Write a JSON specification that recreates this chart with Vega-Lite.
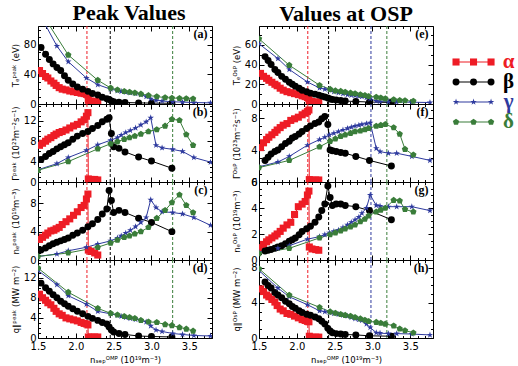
{
"$schema":"https://vega.github.io/schema/vega-lite/v6.json",
"background":"white",
"padding":{"left":10,"top":1,"right":0,"bottom":0},
"datasets":{
"vl":[{"c":"L","s":"α","x":2.147},{"c":"L","s":"β","x":2.455},{"c":"L","s":"δ","x":3.28},{"c":"R","s":"α","x":2.145},{"c":"R","s":"β","x":2.42},{"c":"R","s":"γ","x":2.98},{"c":"R","s":"δ","x":3.19}],
"lab":[{"p":"a","t":"(a)"},{"p":"b","t":"(b)"},{"p":"c","t":"(c)"},{"p":"d","t":"(d)"},{"p":"e","t":"(e)"},{"p":"f","t":"(f)"},{"p":"g","t":"(g)"},{"p":"h","t":"(h)"}],
"leg":[{"s":"α","i":0,"k":[0,1,2]},{"s":"β","i":1,"k":[0,1,2]},{"s":"γ","i":2,"k":[0,1,2]},{"s":"δ","i":3,"k":[0,1,2]}],
"d":[
{"p":"a","s":"α","x":[1.52,1.56,1.6,1.63,1.67,1.71,1.74,1.78,1.82,1.87,1.92,1.97,2.02,2.07,2.11,2.14,2.16,2.165,2.2,2.25,2.29],"y":[45,41,37,35,31,28,25,22,20,19,17.5,16.5,15.5,14.5,14,13,12,5,4,3.5,3]},
{"p":"b","s":"α","x":[1.52,1.56,1.6,1.63,1.67,1.71,1.74,1.78,1.82,1.87,1.92,1.97,2.02,2.07,2.11,2.14,2.16,2.165,2.2,2.25,2.29],"y":[7.2,7.6,8.0,8.4,8.7,9.1,9.4,9.7,9.9,10.2,10.6,11,11.3,11.8,12.2,12.9,13.6,0.6,0.5,0.5,0.4]},
{"p":"c","s":"α","x":[1.52,1.56,1.6,1.63,1.67,1.71,1.74,1.78,1.82,1.87,1.92,1.97,2.02,2.07,2.11,2.14,2.16,2.165,2.2,2.25,2.29],"y":[2.9,3.2,3.5,3.8,4.1,4.2,4.4,4.6,5.0,5.4,5.8,6.3,6.8,7.4,7.7,8.6,9.3,1.4,1.2,1.0,0.7]},
{"p":"d","s":"α","x":[1.52,1.56,1.6,1.63,1.67,1.71,1.74,1.78,1.82,1.87,1.92,1.97,2.02,2.07,2.11,2.14,2.16,2.165,2.2,2.25,2.29],"y":[8.7,8.0,7.5,7.0,6.6,5.9,5.3,4.8,4.5,4.0,3.8,3.6,3.4,3.1,2.9,2.8,2.6,0.2,0.2,0.2,0.2]},
{"p":"e","s":"α","x":[1.52,1.56,1.6,1.63,1.67,1.71,1.74,1.78,1.82,1.87,1.92,1.97,2.02,2.07,2.11,2.14,2.16,2.165,2.2,2.25,2.29],"y":[31,28,26,24,22,20,18.5,16,14,12.5,11.5,10.5,9.5,8.3,7.5,6.5,5.5,3,2.5,2,2]},
{"p":"f","s":"α","x":[1.52,1.56,1.6,1.63,1.67,1.71,1.74,1.78,1.82,1.87,1.92,1.97,2.02,2.07,2.11,2.14,2.16,2.165,2.2,2.25,2.29],"y":[4.3,4.9,5.3,5.6,5.9,6.2,6.5,6.8,7.1,7.3,7.7,7.9,8.1,8.4,8.6,8.8,9.0,0.3,0.25,0.25,0.25]},
{"p":"g","s":"α","x":[1.52,1.56,1.6,1.63,1.67,1.71,1.74,1.78,1.82,1.87,1.92,1.97,2.02,2.07,2.11,2.14,2.16,2.165,2.2,2.25,2.29],"y":[0.95,1.2,1.4,1.55,1.7,1.85,2.0,2.2,2.45,2.7,2.9,3.5,4.1,4.3,4.5,5.0,5.3,1.0,0.85,0.8,0.75]},
{"p":"h","s":"α","x":[1.52,1.56,1.6,1.63,1.67,1.71,1.74,1.78,1.82,1.87,1.92,1.97,2.02,2.07,2.11,2.14,2.16,2.165,2.2,2.25,2.29],"y":[5.6,5.3,4.9,4.7,4.4,4.1,3.7,3.3,3.1,2.8,2.7,2.5,2.3,2.1,2.0,1.9,1.85,0.2,0.1,0.1,0.1]},
{"p":"a","s":"β","x":[1.54,1.6,1.65,1.7,1.75,1.8,1.85,1.9,1.96,2.02,2.09,2.16,2.22,2.29,2.35,2.41,2.44,2.47,2.5,2.57,2.65,2.83,3.0,3.27],"y":[76,67,60,54,49,45,38,32,27,23,20,17,14,12,9,7,6,4,3,2.5,2,1.5,1.2,1]},
{"p":"b","s":"β","x":[1.54,1.6,1.65,1.7,1.75,1.8,1.85,1.9,1.96,2.02,2.09,2.16,2.22,2.29,2.35,2.41,2.44,2.47,2.5,2.57,2.65,2.83,3.0,3.27],"y":[4.4,5.0,5.6,6.0,6.5,6.9,7.3,7.7,8.4,9.0,9.5,9.9,10.5,11.1,11.8,12.3,12.6,9.5,6.9,6.6,5.9,4.9,4.1,2.7]},
{"p":"c","s":"β","x":[1.54,1.6,1.65,1.7,1.75,1.8,1.85,1.9,1.96,2.02,2.09,2.16,2.22,2.29,2.35,2.41,2.44,2.47,2.5,2.57,2.65,2.83,3.0,3.27],"y":[1.4,1.7,2.0,2.3,2.5,2.7,2.9,3.1,3.5,3.8,4.2,4.7,5.1,5.7,6.5,7.2,9.8,8.4,6.7,7.0,6.7,5.9,5.3,4.0]},
{"p":"d","s":"β","x":[1.54,1.6,1.65,1.7,1.75,1.8,1.85,1.9,1.96,2.02,2.09,2.16,2.22,2.29,2.35,2.41,2.44,2.47,2.5,2.57,2.65,2.83,3.0,3.27],"y":[10.9,10.0,9.3,8.6,8.0,7.3,6.8,6.3,5.8,5.3,4.8,4.3,3.9,3.5,3.1,2.8,2.2,1.6,1.2,0.9,0.7,0.4,0.3,0.2]},
{"p":"e","s":"β","x":[1.58,1.62,1.66,1.71,1.75,1.8,1.85,1.9,1.94,1.98,2.03,2.07,2.13,2.18,2.24,2.29,2.33,2.37,2.41,2.44,2.47,2.52,2.58,2.64,2.78,2.96,3.25],"y":[48,44,40,35,32,28,25,22,20,18,16,14,12.5,11,10,9,8,7,6,5,4.5,4,3.5,3,2.5,2,1.5]},
{"p":"f","s":"β","x":[1.58,1.62,1.66,1.71,1.75,1.8,1.85,1.9,1.94,1.98,2.03,2.07,2.13,2.18,2.24,2.29,2.33,2.37,2.41,2.44,2.47,2.52,2.58,2.64,2.78,2.96,3.25],"y":[2.7,3.1,3.5,3.8,4.0,4.4,4.8,5.1,5.5,5.7,6.0,6.3,6.7,7.0,7.3,7.5,7.9,8.2,7.2,4.0,3.9,3.8,3.7,3.6,3.2,2.7,2.0]},
{"p":"g","s":"β","x":[1.58,1.62,1.66,1.71,1.75,1.8,1.85,1.9,1.94,1.98,2.03,2.07,2.13,2.18,2.24,2.29,2.33,2.37,2.41,2.44,2.47,2.52,2.58,2.64,2.78,2.96,3.25],"y":[0.7,0.75,0.8,0.9,1.0,1.1,1.25,1.45,1.55,1.7,1.95,2.2,2.4,2.6,2.9,3.3,3.8,4.3,5.7,4.8,4.2,4.3,4.3,4.2,4.1,3.8,3.1]},
{"p":"h","s":"β","x":[1.58,1.62,1.66,1.71,1.75,1.8,1.85,1.9,1.94,1.98,2.03,2.07,2.13,2.18,2.24,2.29,2.33,2.37,2.41,2.44,2.47,2.52,2.58,2.64,2.78,2.96,3.25],"y":[6.4,6.0,5.7,5.2,4.9,4.6,4.2,3.9,3.6,3.4,3.1,2.9,2.7,2.6,2.4,2.2,1.9,1.6,1.1,0.8,0.6,0.5,0.45,0.4,0.35,0.25,0.2]},
{"p":"a","s":"γ","x":[1.5,1.75,1.9,2.14,2.29,2.46,2.55,2.6,2.66,2.72,2.79,2.86,2.93,2.99,3.06,3.14,3.28,3.41,3.56,3.78],"y":[125,78,57,35,26,20,18,17,16,15,14,12.6,10,7,5,4,3,2.5,2,1.5]},
{"p":"b","s":"γ","x":[1.5,1.75,1.9,2.14,2.29,2.46,2.55,2.6,2.66,2.72,2.79,2.86,2.93,2.99,3.06,3.14,3.28,3.41,3.56,3.78],"y":[2.4,3.6,4.8,6.2,7.3,8.2,8.7,9.2,9.7,10.1,10.6,11.2,11.8,12.6,7.2,6.7,6.4,6.0,4.8,3.9]},
{"p":"c","s":"γ","x":[1.5,1.75,1.9,2.14,2.29,2.46,2.55,2.6,2.66,2.72,2.79,2.86,2.93,2.99,3.06,3.14,3.28,3.41,3.56,3.78],"y":[0.5,0.85,1.3,1.8,2.25,2.7,3.1,3.4,3.8,4.2,4.7,5.3,6.0,8.5,7.4,6.8,6.7,6.5,6.0,4.9]},
{"p":"d","s":"γ","x":[1.5,1.75,1.9,2.14,2.29,2.46,2.55,2.6,2.66,2.72,2.79,2.86,2.93,2.99,3.06,3.14,3.28,3.41,3.56,3.78],"y":[13.4,10.6,8.4,6.7,5.3,4.8,4.5,4.3,4.1,3.9,3.7,3.5,3.2,2.4,1.6,1.3,0.9,0.7,0.5,0.4]},
{"p":"e","s":"γ","x":[1.5,1.75,1.9,2.14,2.3,2.37,2.43,2.49,2.55,2.61,2.67,2.72,2.77,2.82,2.86,2.92,2.97,3.05,3.1,3.21,3.32,3.52,3.76],"y":[61,46,35,22.3,16.2,15,13.9,12.5,11.5,10.5,9.5,9,8.5,8,7.5,6.5,5.4,3,2.5,2.2,2,1.8,1.5]},
{"p":"f","s":"γ","x":[1.5,1.75,1.9,2.14,2.3,2.37,2.43,2.49,2.55,2.61,2.67,2.72,2.77,2.82,2.86,2.92,2.97,3.05,3.1,3.21,3.32,3.52,3.76],"y":[1.9,2.5,3.2,4.6,5.3,5.6,5.9,6.1,6.3,6.5,6.7,6.85,7.0,7.1,7.2,7.3,7.4,4.2,3.8,3.6,3.6,3.2,2.7]},
{"p":"g","s":"γ","x":[1.5,1.75,1.9,2.14,2.3,2.37,2.43,2.49,2.55,2.61,2.67,2.72,2.77,2.82,2.86,2.92,2.97,3.05,3.1,3.21,3.32,3.52,3.76],"y":[0.6,0.9,1.1,1.6,1.8,1.95,2.1,2.2,2.3,2.5,2.7,2.9,3.1,3.3,3.6,4.0,5.0,4.2,4.15,4.1,4.1,4.1,3.8]},
{"p":"h","s":"γ","x":[1.5,1.75,1.9,2.14,2.3,2.37,2.43,2.49,2.55,2.61,2.67,2.72,2.77,2.82,2.86,2.92,2.97,3.05,3.1,3.21,3.32,3.52,3.76],"y":[7.7,5.7,4.7,3.8,3.1,3.0,2.9,2.8,2.7,2.6,2.5,2.35,2.2,2.1,2.0,1.6,1.2,0.6,0.55,0.5,0.5,0.45,0.35]},
{"p":"a","s":"δ","x":[1.5,1.9,2.29,2.46,2.55,2.64,2.71,2.78,2.86,2.96,3.07,3.18,3.27,3.37,3.46,3.55],"y":[130,66,32,21.6,19,17,16,15,13.5,11.5,10,8.6,8,7.7,7.3,7]},
{"p":"b","s":"δ","x":[1.5,1.9,2.29,2.46,2.55,2.64,2.71,2.78,2.86,2.96,3.07,3.18,3.27,3.37,3.46,3.55],"y":[2.3,4.0,6.5,7.5,7.9,8.4,8.7,9.0,9.4,9.9,10.3,11.0,12.3,12.1,9.3,7.2]},
{"p":"c","s":"δ","x":[1.5,1.9,2.29,2.46,2.55,2.64,2.71,2.78,2.86,2.96,3.07,3.18,3.27,3.37,3.46,3.55],"y":[0.5,1.0,1.8,2.4,2.8,3.2,3.4,3.7,4.0,4.6,5.9,7.0,8.1,9.2,7.7,6.7]},
{"p":"d","s":"δ","x":[1.5,1.9,2.29,2.46,2.55,2.64,2.71,2.78,2.86,2.96,3.07,3.18,3.27,3.37,3.46,3.55],"y":[13.9,9.1,5.9,4.9,4.6,4.3,4.1,3.9,3.5,3.2,3.1,2.7,2.5,2.1,1.8,1.4]},
{"p":"e","s":"δ","x":[1.5,1.9,2.3,2.44,2.51,2.58,2.64,2.71,2.77,2.84,2.9,2.95,3.05,3.11,3.17,3.28,3.36,3.43,3.54],"y":[66,39.3,19,15,13.5,13,12,11.2,10.5,9.5,8.8,7.8,7,6.2,5.4,4.4,3.8,3.4,3]},
{"p":"f","s":"δ","x":[1.5,1.9,2.3,2.44,2.51,2.58,2.64,2.71,2.77,2.84,2.9,2.95,3.05,3.11,3.17,3.28,3.36,3.43,3.54],"y":[1.8,2.7,4.4,5.1,5.4,5.7,5.9,6.1,6.3,6.4,6.55,6.7,7.0,7.1,7.2,6.8,6.0,4.1,3.4]},
{"p":"g","s":"δ","x":[1.5,1.9,2.3,2.44,2.51,2.58,2.64,2.71,2.77,2.84,2.9,2.95,3.05,3.11,3.17,3.28,3.36,3.43,3.54],"y":[0.5,0.9,1.7,1.95,2.1,2.25,2.4,2.55,2.7,2.95,3.15,3.4,3.7,3.85,4.0,4.6,4.55,3.9,3.7]},
{"p":"h","s":"δ","x":[1.5,1.9,2.3,2.44,2.51,2.58,2.64,2.71,2.77,2.84,2.9,2.95,3.05,3.11,3.17,3.28,3.36,3.43,3.54],"y":[7.9,4.9,3.5,3.0,2.85,2.7,2.6,2.5,2.35,2.2,2.05,1.9,1.8,1.7,1.6,1.4,1.05,0.85,0.6]}
]},
"spacing":18,
"hconcat":[
{"spacing":0,"bounds":"flush","vconcat":[
{"width":174,"height":78,
 "title":{"text":"Peak Values","font":"Liberation Serif","fontSize":22,"fontWeight":"bold","color":"black","anchor":"middle","frame":"group","offset":0,"dx":4},
 "layer":[
 {"data":{"name":"vl"},"transform":[{"filter":"datum.c=='L'"}],"mark":{"type":"rule","strokeDash":[3,2],"strokeWidth":1},
  "encoding":{"x":{"field":"x","type":"quantitative","scale":{"domain":[1.5,3.8],"nice":false,"zero":false},"axis":{"orient":"bottom","values":[1.5,1.6,1.7,1.8,1.9,2.0,2.1,2.2,2.3,2.4,2.5,2.6,2.7,2.8,2.9,3.0,3.1,3.2,3.3,3.4,3.5,3.6,3.7,3.8],"labels":false,"title":null,"tickSize":{"condition":{"test":"abs(datum.value*2-round(datum.value*2))<0.001","value":-5},"value":-2.5}}},
  "color":{"field":"s","type":"nominal","scale":{"domain":["α","β","γ","δ"],"range":["#ee1c25","#000000","#2e3a9e","#3a7d3a"]},"legend":null}}},
 {"data":{"name":"d"},"transform":[{"filter":"datum.p=='a'"},{"flatten":["x","y"]}],"mark":{"type":"line","strokeWidth":1,"clip":true},
  "encoding":{"x":{"field":"x","type":"quantitative","axis":{"orient":"top","values":[1.5,1.6,1.7,1.8,1.9,2.0,2.1,2.2,2.3,2.4,2.5,2.6,2.7,2.8,2.9,3.0,3.1,3.2,3.3,3.4,3.5,3.6,3.7,3.8],"labels":false,"title":null,"tickSize":{"condition":{"test":"abs(datum.value*2-round(datum.value*2))<0.001","value":-5},"value":-2.5}}},
  "y":{"field":"y","type":"quantitative","scale":{"domain":[0,105],"nice":false,"zero":false},"axis":{"orient":"left","minExtent":15,"maxExtent":15,"values":[0,10,20,30,40,50,60,70,80,90,100],"labelExpr":"datum.value % 40 == 0 ? format(datum.value,'d') : ''","title":"Tₑᵖᵉᵃᵏ (eV)","tickSize":{"condition":{"test":"datum.value % 40 == 0","value":-5},"value":-2.5}}},
  "color":{"field":"s","type":"nominal","legend":null}}},
 {"data":{"name":"d"},"transform":[{"filter":"datum.p=='a'"},{"flatten":["x","y"]}],"mark":{"type":"point","filled":true,"opacity":1,"clip":true,"strokeWidth":0},
  "encoding":{"x":{"field":"x","type":"quantitative","axis":null},
  "y":{"field":"y","type":"quantitative","axis":{"orient":"right","values":[0,10,20,30,40,50,60,70,80,90,100],"labels":false,"title":null,"tickSize":{"condition":{"test":"datum.value % 40 == 0","value":-5},"value":-2.5}}},
  "color":{"field":"s","type":"nominal","legend":null},
  "shape":{"field":"s","type":"nominal","scale":{"domain":["α","β","γ","δ"],"range":["square","circle","M0,-1L0.2245,-0.309L0.9511,-0.309L0.3633,0.118L0.5878,0.809L0,0.382L-0.5878,0.809L-0.3633,0.118L-0.9511,-0.309L-0.2245,-0.309Z","M0,-1L0.9511,-0.309L0.5878,0.809L-0.5878,0.809L-0.9511,-0.309Z"]},"legend":null},
  "size":{"field":"s","type":"ordinal","scale":{"domain":["α","β","γ","δ"],"range":[50,45,90,55]},"legend":null}}},
 {"data":{"name":"lab"},"transform":[{"filter":"datum.p=='a'"}],"mark":{"type":"text","align":"right","baseline":"top","font":"Liberation Serif","fontSize":12,"fontWeight":"bold","color":"black"},
  "encoding":{"x":{"datum":3.74,"type":"quantitative","axis":null},"y":{"datum":101,"type":"quantitative","axis":null},"text":{"field":"t"}}}
 ]},
{"width":174,"height":78,
 "layer":[
 {"data":{"name":"vl"},"transform":[{"filter":"datum.c=='L'"}],"mark":{"type":"rule","strokeDash":[3,2],"strokeWidth":1},
  "encoding":{"x":{"field":"x","type":"quantitative","scale":{"domain":[1.5,3.8],"nice":false,"zero":false},"axis":{"orient":"bottom","values":[1.5,1.6,1.7,1.8,1.9,2.0,2.1,2.2,2.3,2.4,2.5,2.6,2.7,2.8,2.9,3.0,3.1,3.2,3.3,3.4,3.5,3.6,3.7,3.8],"labels":false,"title":null,"tickSize":{"condition":{"test":"abs(datum.value*2-round(datum.value*2))<0.001","value":-5},"value":-2.5}}},
  "color":{"field":"s","type":"nominal","legend":null}}},
 {"data":{"name":"d"},"transform":[{"filter":"datum.p=='b'"},{"flatten":["x","y"]}],"mark":{"type":"line","strokeWidth":1,"clip":true},
  "encoding":{"x":{"field":"x","type":"quantitative","axis":{"orient":"top","values":[1.5,1.6,1.7,1.8,1.9,2.0,2.1,2.2,2.3,2.4,2.5,2.6,2.7,2.8,2.9,3.0,3.1,3.2,3.3,3.4,3.5,3.6,3.7,3.8],"labels":false,"title":null,"tickSize":{"condition":{"test":"abs(datum.value*2-round(datum.value*2))<0.001","value":-5},"value":-2.5}}},
  "y":{"field":"y","type":"quantitative","scale":{"domain":[0,15.3],"nice":false,"zero":false},"axis":{"orient":"left","minExtent":15,"maxExtent":15,"values":[0,1,2,3,4,5,6,7,8,9,10,11,12,13,14,15],"labelExpr":"datum.value % 4 == 0 ? format(datum.value,'d') : ''","title":"Γᵖᵉᵃᵏ (10²³m⁻²s⁻¹)","tickSize":{"condition":{"test":"datum.value % 4 == 0","value":-5},"value":-2.5}}},
  "color":{"field":"s","type":"nominal","legend":null}}},
 {"data":{"name":"d"},"transform":[{"filter":"datum.p=='b'"},{"flatten":["x","y"]}],"mark":{"type":"point","filled":true,"opacity":1,"clip":true,"strokeWidth":0},
  "encoding":{"x":{"field":"x","type":"quantitative","axis":null},
  "y":{"field":"y","type":"quantitative","axis":{"orient":"right","values":[0,1,2,3,4,5,6,7,8,9,10,11,12,13,14,15],"labels":false,"title":null,"tickSize":{"condition":{"test":"datum.value % 4 == 0","value":-5},"value":-2.5}}},
  "color":{"field":"s","type":"nominal","legend":null},
  "shape":{"field":"s","type":"nominal","legend":null},
  "size":{"field":"s","type":"ordinal","legend":null}}},
 {"data":{"name":"lab"},"transform":[{"filter":"datum.p=='b'"}],"mark":{"type":"text","align":"right","baseline":"top","font":"Liberation Serif","fontSize":12,"fontWeight":"bold","color":"black"},
  "encoding":{"x":{"datum":3.74,"type":"quantitative","axis":null},"y":{"datum":14.7,"type":"quantitative","axis":null},"text":{"field":"t"}}}
 ]},
{"width":174,"height":78,
 "layer":[
 {"data":{"name":"vl"},"transform":[{"filter":"datum.c=='L'"}],"mark":{"type":"rule","strokeDash":[3,2],"strokeWidth":1},
  "encoding":{"x":{"field":"x","type":"quantitative","scale":{"domain":[1.5,3.8],"nice":false,"zero":false},"axis":{"orient":"bottom","values":[1.5,1.6,1.7,1.8,1.9,2.0,2.1,2.2,2.3,2.4,2.5,2.6,2.7,2.8,2.9,3.0,3.1,3.2,3.3,3.4,3.5,3.6,3.7,3.8],"labels":false,"title":null,"tickSize":{"condition":{"test":"abs(datum.value*2-round(datum.value*2))<0.001","value":-5},"value":-2.5}}},
  "color":{"field":"s","type":"nominal","legend":null}}},
 {"data":{"name":"d"},"transform":[{"filter":"datum.p=='c'"},{"flatten":["x","y"]}],"mark":{"type":"line","strokeWidth":1,"clip":true},
  "encoding":{"x":{"field":"x","type":"quantitative","axis":{"orient":"top","values":[1.5,1.6,1.7,1.8,1.9,2.0,2.1,2.2,2.3,2.4,2.5,2.6,2.7,2.8,2.9,3.0,3.1,3.2,3.3,3.4,3.5,3.6,3.7,3.8],"labels":false,"title":null,"tickSize":{"condition":{"test":"abs(datum.value*2-round(datum.value*2))<0.001","value":-5},"value":-2.5}}},
  "y":{"field":"y","type":"quantitative","scale":{"domain":[0,11],"nice":false,"zero":false},"axis":{"orient":"left","minExtent":15,"maxExtent":15,"values":[0,1,2,3,4,5,6,7,8,9,10,11],"labelExpr":"datum.value % 4 == 0 ? format(datum.value,'d') : ''","title":"nₑᵖᵉᵃᵏ (10¹⁹m⁻³)","tickSize":{"condition":{"test":"datum.value % 4 == 0","value":-5},"value":-2.5}}},
  "color":{"field":"s","type":"nominal","legend":null}}},
 {"data":{"name":"d"},"transform":[{"filter":"datum.p=='c'"},{"flatten":["x","y"]}],"mark":{"type":"point","filled":true,"opacity":1,"clip":true,"strokeWidth":0},
  "encoding":{"x":{"field":"x","type":"quantitative","axis":null},
  "y":{"field":"y","type":"quantitative","axis":{"orient":"right","values":[0,1,2,3,4,5,6,7,8,9,10,11],"labels":false,"title":null,"tickSize":{"condition":{"test":"datum.value % 4 == 0","value":-5},"value":-2.5}}},
  "color":{"field":"s","type":"nominal","legend":null},
  "shape":{"field":"s","type":"nominal","legend":null},
  "size":{"field":"s","type":"ordinal","legend":null}}},
 {"data":{"name":"lab"},"transform":[{"filter":"datum.p=='c'"}],"mark":{"type":"text","align":"right","baseline":"top","font":"Liberation Serif","fontSize":12,"fontWeight":"bold","color":"black"},
  "encoding":{"x":{"datum":3.74,"type":"quantitative","axis":null},"y":{"datum":10.6,"type":"quantitative","axis":null},"text":{"field":"t"}}}
 ]},
{"width":174,"height":78,
 "layer":[
 {"data":{"name":"vl"},"transform":[{"filter":"datum.c=='L'"}],"mark":{"type":"rule","strokeDash":[3,2],"strokeWidth":1},
  "encoding":{"x":{"field":"x","type":"quantitative","scale":{"domain":[1.5,3.8],"nice":false,"zero":false},"axis":{"orient":"bottom","values":[1.5,1.6,1.7,1.8,1.9,2.0,2.1,2.2,2.3,2.4,2.5,2.6,2.7,2.8,2.9,3.0,3.1,3.2,3.3,3.4,3.5,3.6,3.7,3.8],"labelExpr":"abs(datum.value*2-round(datum.value*2))<0.001 ? format(datum.value,'.1f') : ''","title":"nₛₑₚᴼᴹᴾ (10¹⁹m⁻³)","tickSize":{"condition":{"test":"abs(datum.value*2-round(datum.value*2))<0.001","value":-5},"value":-2.5}}},
  "color":{"field":"s","type":"nominal","legend":null}}},
 {"data":{"name":"d"},"transform":[{"filter":"datum.p=='d'"},{"flatten":["x","y"]}],"mark":{"type":"line","strokeWidth":1,"clip":true},
  "encoding":{"x":{"field":"x","type":"quantitative","axis":{"orient":"top","values":[1.5,1.6,1.7,1.8,1.9,2.0,2.1,2.2,2.3,2.4,2.5,2.6,2.7,2.8,2.9,3.0,3.1,3.2,3.3,3.4,3.5,3.6,3.7,3.8],"labels":false,"title":null,"tickSize":{"condition":{"test":"abs(datum.value*2-round(datum.value*2))<0.001","value":-5},"value":-2.5}}},
  "y":{"field":"y","type":"quantitative","scale":{"domain":[0,15.5],"nice":false,"zero":false},"axis":{"orient":"left","minExtent":15,"maxExtent":15,"values":[0,1,2,3,4,5,6,7,8,9,10,11,12,13,14,15],"labelExpr":"datum.value % 4 == 0 ? format(datum.value,'d') : ''","title":"q∥ᵖᵉᵃᵏ (MW m⁻²)","tickSize":{"condition":{"test":"datum.value % 4 == 0","value":-5},"value":-2.5}}},
  "color":{"field":"s","type":"nominal","legend":null}}},
 {"data":{"name":"d"},"transform":[{"filter":"datum.p=='d'"},{"flatten":["x","y"]}],"mark":{"type":"point","filled":true,"opacity":1,"clip":true,"strokeWidth":0},
  "encoding":{"x":{"field":"x","type":"quantitative","axis":null},
  "y":{"field":"y","type":"quantitative","axis":{"orient":"right","values":[0,1,2,3,4,5,6,7,8,9,10,11,12,13,14,15],"labels":false,"title":null,"tickSize":{"condition":{"test":"datum.value % 4 == 0","value":-5},"value":-2.5}}},
  "color":{"field":"s","type":"nominal","legend":null},
  "shape":{"field":"s","type":"nominal","legend":null},
  "size":{"field":"s","type":"ordinal","legend":null}}},
 {"data":{"name":"lab"},"transform":[{"filter":"datum.p=='d'"}],"mark":{"type":"text","align":"right","baseline":"top","font":"Liberation Serif","fontSize":12,"fontWeight":"bold","color":"black"},
  "encoding":{"x":{"datum":3.74,"type":"quantitative","axis":null},"y":{"datum":14.9,"type":"quantitative","axis":null},"text":{"field":"t"}}}
 ]}
]},
{"spacing":0,"bounds":"flush","vconcat":[
{"width":174,"height":78,
 "title":{"text":"Values at OSP","font":"Liberation Serif","fontSize":22,"fontWeight":"bold","color":"black","anchor":"middle","frame":"group","offset":0},
 "layer":[
 {"data":{"name":"vl"},"transform":[{"filter":"datum.c=='R'"}],"mark":{"type":"rule","strokeDash":[3,2],"strokeWidth":1},
  "encoding":{"x":{"field":"x","type":"quantitative","scale":{"domain":[1.5,3.8],"nice":false,"zero":false},"axis":{"orient":"bottom","values":[1.5,1.6,1.7,1.8,1.9,2.0,2.1,2.2,2.3,2.4,2.5,2.6,2.7,2.8,2.9,3.0,3.1,3.2,3.3,3.4,3.5,3.6,3.7,3.8],"labels":false,"title":null,"tickSize":{"condition":{"test":"abs(datum.value*2-round(datum.value*2))<0.001","value":-5},"value":-2.5}}},
  "color":{"field":"s","type":"nominal","legend":null}}},
 {"data":{"name":"d"},"transform":[{"filter":"datum.p=='e'"},{"flatten":["x","y"]}],"mark":{"type":"line","strokeWidth":1,"clip":true},
  "encoding":{"x":{"field":"x","type":"quantitative","axis":{"orient":"top","values":[1.5,1.6,1.7,1.8,1.9,2.0,2.1,2.2,2.3,2.4,2.5,2.6,2.7,2.8,2.9,3.0,3.1,3.2,3.3,3.4,3.5,3.6,3.7,3.8],"labels":false,"title":null,"tickSize":{"condition":{"test":"abs(datum.value*2-round(datum.value*2))<0.001","value":-5},"value":-2.5}}},
  "y":{"field":"y","type":"quantitative","scale":{"domain":[0,79],"nice":false,"zero":false},"axis":{"orient":"left","minExtent":15,"maxExtent":15,"values":[0,10,20,30,40,50,60,70],"labelExpr":"datum.value % 20 == 0 ? format(datum.value,'d') : ''","title":"Tₑᴼˢᴾ (eV)","tickSize":{"condition":{"test":"datum.value % 20 == 0","value":-5},"value":-2.5}}},
  "color":{"field":"s","type":"nominal","legend":null}}},
 {"data":{"name":"d"},"transform":[{"filter":"datum.p=='e'"},{"flatten":["x","y"]}],"mark":{"type":"point","filled":true,"opacity":1,"clip":true,"strokeWidth":0},
  "encoding":{"x":{"field":"x","type":"quantitative","axis":null},
  "y":{"field":"y","type":"quantitative","axis":{"orient":"right","values":[0,10,20,30,40,50,60,70],"labels":false,"title":null,"tickSize":{"condition":{"test":"datum.value % 20 == 0","value":-5},"value":-2.5}}},
  "color":{"field":"s","type":"nominal","legend":null},
  "shape":{"field":"s","type":"nominal","legend":null},
  "size":{"field":"s","type":"ordinal","legend":null}}},
 {"data":{"name":"lab"},"transform":[{"filter":"datum.p=='e'"}],"mark":{"type":"text","align":"right","baseline":"top","font":"Liberation Serif","fontSize":12,"fontWeight":"bold","color":"black"},
  "encoding":{"x":{"datum":3.74,"type":"quantitative","axis":null},"y":{"datum":76,"type":"quantitative","axis":null},"text":{"field":"t"}}}
 ]},
{"width":174,"height":78,
 "layer":[
 {"data":{"name":"vl"},"transform":[{"filter":"datum.c=='R'"}],"mark":{"type":"rule","strokeDash":[3,2],"strokeWidth":1},
  "encoding":{"x":{"field":"x","type":"quantitative","scale":{"domain":[1.5,3.8],"nice":false,"zero":false},"axis":{"orient":"bottom","values":[1.5,1.6,1.7,1.8,1.9,2.0,2.1,2.2,2.3,2.4,2.5,2.6,2.7,2.8,2.9,3.0,3.1,3.2,3.3,3.4,3.5,3.6,3.7,3.8],"labels":false,"title":null,"tickSize":{"condition":{"test":"abs(datum.value*2-round(datum.value*2))<0.001","value":-5},"value":-2.5}}},
  "color":{"field":"s","type":"nominal","legend":null}}},
 {"data":{"name":"d"},"transform":[{"filter":"datum.p=='f'"},{"flatten":["x","y"]}],"mark":{"type":"line","strokeWidth":1,"clip":true},
  "encoding":{"x":{"field":"x","type":"quantitative","axis":{"orient":"top","values":[1.5,1.6,1.7,1.8,1.9,2.0,2.1,2.2,2.3,2.4,2.5,2.6,2.7,2.8,2.9,3.0,3.1,3.2,3.3,3.4,3.5,3.6,3.7,3.8],"labels":false,"title":null,"tickSize":{"condition":{"test":"abs(datum.value*2-round(datum.value*2))<0.001","value":-5},"value":-2.5}}},
  "y":{"field":"y","type":"quantitative","scale":{"domain":[0,9.75],"nice":false,"zero":false},"axis":{"orient":"left","minExtent":15,"maxExtent":15,"values":[0,1,2,3,4,5,6,7,8,9],"labelExpr":"datum.value % 4 == 0 ? format(datum.value,'d') : ''","title":"Γᴼˢᴾ (10²³m⁻²s⁻¹)","tickSize":{"condition":{"test":"datum.value % 4 == 0","value":-5},"value":-2.5}}},
  "color":{"field":"s","type":"nominal","legend":null}}},
 {"data":{"name":"d"},"transform":[{"filter":"datum.p=='f'"},{"flatten":["x","y"]}],"mark":{"type":"point","filled":true,"opacity":1,"clip":true,"strokeWidth":0},
  "encoding":{"x":{"field":"x","type":"quantitative","axis":null},
  "y":{"field":"y","type":"quantitative","axis":{"orient":"right","values":[0,1,2,3,4,5,6,7,8,9],"labels":false,"title":null,"tickSize":{"condition":{"test":"datum.value % 4 == 0","value":-5},"value":-2.5}}},
  "color":{"field":"s","type":"nominal","legend":null},
  "shape":{"field":"s","type":"nominal","legend":null},
  "size":{"field":"s","type":"ordinal","legend":null}}},
 {"data":{"name":"lab"},"transform":[{"filter":"datum.p=='f'"}],"mark":{"type":"text","align":"right","baseline":"top","font":"Liberation Serif","fontSize":12,"fontWeight":"bold","color":"black"},
  "encoding":{"x":{"datum":3.74,"type":"quantitative","axis":null},"y":{"datum":9.4,"type":"quantitative","axis":null},"text":{"field":"t"}}}
 ]},
{"width":174,"height":78,
 "layer":[
 {"data":{"name":"vl"},"transform":[{"filter":"datum.c=='R'"}],"mark":{"type":"rule","strokeDash":[3,2],"strokeWidth":1},
  "encoding":{"x":{"field":"x","type":"quantitative","scale":{"domain":[1.5,3.8],"nice":false,"zero":false},"axis":{"orient":"bottom","values":[1.5,1.6,1.7,1.8,1.9,2.0,2.1,2.2,2.3,2.4,2.5,2.6,2.7,2.8,2.9,3.0,3.1,3.2,3.3,3.4,3.5,3.6,3.7,3.8],"labels":false,"title":null,"tickSize":{"condition":{"test":"abs(datum.value*2-round(datum.value*2))<0.001","value":-5},"value":-2.5}}},
  "color":{"field":"s","type":"nominal","legend":null}}},
 {"data":{"name":"d"},"transform":[{"filter":"datum.p=='g'"},{"flatten":["x","y"]}],"mark":{"type":"line","strokeWidth":1,"clip":true},
  "encoding":{"x":{"field":"x","type":"quantitative","axis":{"orient":"top","values":[1.5,1.6,1.7,1.8,1.9,2.0,2.1,2.2,2.3,2.4,2.5,2.6,2.7,2.8,2.9,3.0,3.1,3.2,3.3,3.4,3.5,3.6,3.7,3.8],"labels":false,"title":null,"tickSize":{"condition":{"test":"abs(datum.value*2-round(datum.value*2))<0.001","value":-5},"value":-2.5}}},
  "y":{"field":"y","type":"quantitative","scale":{"domain":[0,6],"nice":false,"zero":false},"axis":{"orient":"left","minExtent":15,"maxExtent":15,"values":[0,0.5,1,1.5,2,2.5,3,3.5,4,4.5,5,5.5,6],"labelExpr":"datum.value % 2 == 0 ? format(datum.value,'d') : ''","title":"nₑᴼˢᴾ (10¹⁹m⁻³)","tickSize":{"condition":{"test":"datum.value % 2 == 0","value":-5},"value":-2.5}}},
  "color":{"field":"s","type":"nominal","legend":null}}},
 {"data":{"name":"d"},"transform":[{"filter":"datum.p=='g'"},{"flatten":["x","y"]}],"mark":{"type":"point","filled":true,"opacity":1,"clip":true,"strokeWidth":0},
  "encoding":{"x":{"field":"x","type":"quantitative","axis":null},
  "y":{"field":"y","type":"quantitative","axis":{"orient":"right","values":[0,0.5,1,1.5,2,2.5,3,3.5,4,4.5,5,5.5,6],"labels":false,"title":null,"tickSize":{"condition":{"test":"datum.value % 2 == 0","value":-5},"value":-2.5}}},
  "color":{"field":"s","type":"nominal","legend":null},
  "shape":{"field":"s","type":"nominal","legend":null},
  "size":{"field":"s","type":"ordinal","legend":null}}},
 {"data":{"name":"lab"},"transform":[{"filter":"datum.p=='g'"}],"mark":{"type":"text","align":"right","baseline":"top","font":"Liberation Serif","fontSize":12,"fontWeight":"bold","color":"black"},
  "encoding":{"x":{"datum":3.74,"type":"quantitative","axis":null},"y":{"datum":5.78,"type":"quantitative","axis":null},"text":{"field":"t"}}}
 ]},
{"width":174,"height":78,
 "layer":[
 {"data":{"name":"vl"},"transform":[{"filter":"datum.c=='R'"}],"mark":{"type":"rule","strokeDash":[3,2],"strokeWidth":1},
  "encoding":{"x":{"field":"x","type":"quantitative","scale":{"domain":[1.5,3.8],"nice":false,"zero":false},"axis":{"orient":"bottom","values":[1.5,1.6,1.7,1.8,1.9,2.0,2.1,2.2,2.3,2.4,2.5,2.6,2.7,2.8,2.9,3.0,3.1,3.2,3.3,3.4,3.5,3.6,3.7,3.8],"labelExpr":"abs(datum.value*2-round(datum.value*2))<0.001 ? format(datum.value,'.1f') : ''","title":"nₛₑₚᴼᴹᴾ (10¹⁹m⁻³)","tickSize":{"condition":{"test":"abs(datum.value*2-round(datum.value*2))<0.001","value":-5},"value":-2.5}}},
  "color":{"field":"s","type":"nominal","legend":null}}},
 {"data":{"name":"d"},"transform":[{"filter":"datum.p=='h'"},{"flatten":["x","y"]}],"mark":{"type":"line","strokeWidth":1,"clip":true},
  "encoding":{"x":{"field":"x","type":"quantitative","axis":{"orient":"top","values":[1.5,1.6,1.7,1.8,1.9,2.0,2.1,2.2,2.3,2.4,2.5,2.6,2.7,2.8,2.9,3.0,3.1,3.2,3.3,3.4,3.5,3.6,3.7,3.8],"labels":false,"title":null,"tickSize":{"condition":{"test":"abs(datum.value*2-round(datum.value*2))<0.001","value":-5},"value":-2.5}}},
  "y":{"field":"y","type":"quantitative","scale":{"domain":[0,8.9],"nice":false,"zero":false},"axis":{"orient":"left","minExtent":15,"maxExtent":15,"values":[0,1,2,3,4,5,6,7,8],"labelExpr":"datum.value % 4 == 0 ? format(datum.value,'d') : ''","title":"q∥ᴼˢᴾ (MW m⁻²)","tickSize":{"condition":{"test":"datum.value % 4 == 0","value":-5},"value":-2.5}}},
  "color":{"field":"s","type":"nominal","legend":null}}},
 {"data":{"name":"d"},"transform":[{"filter":"datum.p=='h'"},{"flatten":["x","y"]}],"mark":{"type":"point","filled":true,"opacity":1,"clip":true,"strokeWidth":0},
  "encoding":{"x":{"field":"x","type":"quantitative","axis":null},
  "y":{"field":"y","type":"quantitative","axis":{"orient":"right","values":[0,1,2,3,4,5,6,7,8],"labels":false,"title":null,"tickSize":{"condition":{"test":"datum.value % 4 == 0","value":-5},"value":-2.5}}},
  "color":{"field":"s","type":"nominal","legend":null},
  "shape":{"field":"s","type":"nominal","legend":null},
  "size":{"field":"s","type":"ordinal","legend":null}}},
 {"data":{"name":"lab"},"transform":[{"filter":"datum.p=='h'"}],"mark":{"type":"text","align":"right","baseline":"top","font":"Liberation Serif","fontSize":12,"fontWeight":"bold","color":"black"},
  "encoding":{"x":{"datum":3.74,"type":"quantitative","axis":null},"y":{"datum":8.57,"type":"quantitative","axis":null},"text":{"field":"t"}}}
 ]}
]},
{"width":66,"height":110,"view":{"stroke":null},
 "layer":[
 {"data":{"name":"leg"},"transform":[{"flatten":["k"]}],"mark":{"type":"line","strokeWidth":1.2},
  "encoding":{"x":{"field":"k","type":"quantitative","scale":{"domain":[-0.23,3.54],"nice":false,"zero":false},"axis":null},
  "y":{"field":"i","type":"quantitative","scale":{"domain":[-1.8,3.7],"reverse":true,"nice":false,"zero":false},"axis":null},
  "color":{"field":"s","type":"nominal","legend":null}}},
 {"data":{"name":"leg"},"transform":[{"flatten":["k"]}],"mark":{"type":"point","filled":true,"opacity":1,"strokeWidth":0},
  "encoding":{"x":{"field":"k","type":"quantitative","axis":null},
  "y":{"field":"i","type":"quantitative","axis":null},
  "color":{"field":"s","type":"nominal","legend":null},
  "shape":{"field":"s","type":"nominal","legend":null},
  "size":{"field":"s","type":"ordinal","legend":null}}},
 {"data":{"name":"leg"},"mark":{"type":"text","font":"Liberation Serif","fontSize":21,"fontWeight":"bold","align":"center","baseline":"middle"},
  "encoding":{"x":{"datum":3,"type":"quantitative","axis":null},"y":{"field":"i","type":"quantitative","axis":null},"text":{"field":"s"},"color":{"field":"s","type":"nominal","legend":null}}}
 ]}
],
"config":{
 "view":{"stroke":"black","strokeWidth":1},
 "axis":{"grid":false,"domain":false,"tickColor":"black","tickWidth":1,"labelColor":"black","titleColor":"black","labelFont":"DejaVu Sans","labelFontSize":10,"titleFont":"DejaVu Sans","titleFontSize":8.5,"titleFontWeight":"normal","labelFlush":false,"labelOverlap":false,"minExtent":0},
 "axisY":{"titlePadding":3,"labelPadding":7,"minExtent":0},
 "axisX":{"labelPadding":8,"titlePadding":2,"minExtent":0}
}
}
